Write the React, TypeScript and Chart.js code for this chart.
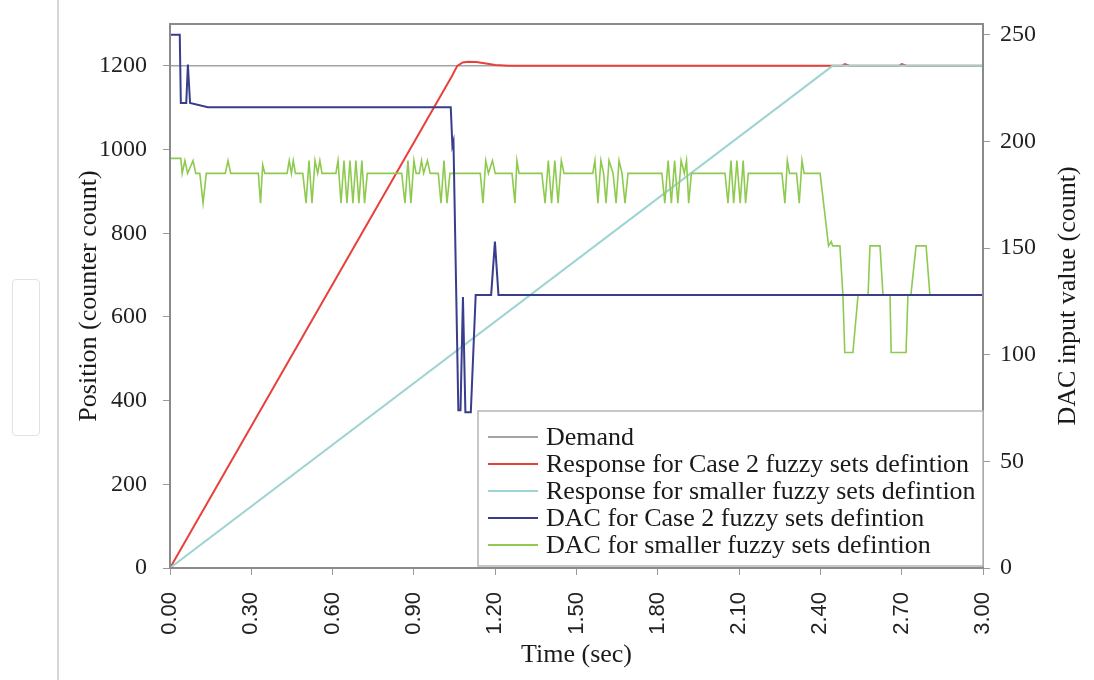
import React, { useEffect, useRef } from "react";
import { Chart, registerables } from "chart.js";

Chart.register(...registerables);

// ---- axis ticks ----
const xTicks = [0, 0.3, 0.6, 0.9, 1.2, 1.5, 1.8, 2.1, 2.4, 2.7, 3.0];
const yLeftTicks = [0, 200, 400, 600, 800, 1000, 1200];
const yRightTicks = [0, 50, 100, 150, 200, 250];

// ---- series labels ----
const seriesLabels = [
  "Demand",
  "Response for Case 2 fuzzy sets defintion",
  "Response for smaller fuzzy sets defintion",
  "DAC for Case 2 fuzzy sets defintion",
  "DAC for smaller fuzzy sets defintion",
];

// ---- Demand (position) ----
const demandT = [0, 3.0];
const demandV = [1200, 1200];

// ---- Response, Case 2 (position) ----
const respCase2T = [0, 1.04, 1.06, 1.08, 1.1, 1.13, 1.16, 1.2, 1.25, 2.48, 2.49, 2.51, 2.69, 2.7, 2.72, 3.0];
const respCase2V = [0, 1175, 1200, 1208, 1210, 1209, 1206, 1202, 1200, 1200, 1204, 1200, 1200, 1204, 1200, 1200];

// ---- Response, smaller sets (position) ----
const respSmallT = [0, 2.445, 3.0];
const respSmallV = [0, 1200, 1200];

// ---- DAC, Case 2 (count) ----
const dacCase2T = [0, 0.036, 0.04, 0.06, 0.066, 0.074, 0.14, 1.036, 1.042, 1.046, 1.064, 1.072, 1.081, 1.09, 1.11, 1.128, 1.185, 1.199, 1.212, 3.0];
const dacCase2V = [250, 250, 218, 218, 236, 218, 216, 216, 198, 200, 74, 74, 127, 73, 73, 128, 128, 153, 128, 128];

// ---- DAC, smaller sets (count) ----
const dacSmallT = [
  0, 0.04, 0.045, 0.055, 0.065, 0.085, 0.095, 0.11, 0.122, 0.134,
  0.204, 0.214, 0.224,
  0.326, 0.334, 0.342, 0.35,
  0.432, 0.44, 0.448, 0.455, 0.463,
  0.49, 0.502, 0.513, 0.524, 0.535, 0.545, 0.553, 0.561,
  0.612, 0.62, 0.631, 0.642, 0.653, 0.664, 0.675, 0.686, 0.697, 0.708, 0.718, 0.728,
  0.855, 0.867, 0.878, 0.889, 0.9, 0.908,
  0.92, 0.928, 0.936, 0.95, 0.96,
  0.99, 1.0, 1.011, 1.022, 1.033,
  1.145, 1.155, 1.165, 1.175, 1.19, 1.2,
  1.262, 1.273, 1.28, 1.288,
  1.372, 1.384, 1.396, 1.408, 1.42, 1.432, 1.444, 1.454,
  1.56, 1.568, 1.579, 1.59, 1.6, 1.609, 1.62, 1.635, 1.646, 1.657, 1.668, 1.679, 1.69,
  1.815, 1.826, 1.838, 1.85, 1.862, 1.874, 1.886, 1.898, 1.906, 1.914, 1.924,
  2.048, 2.059, 2.07, 2.08, 2.092, 2.104, 2.115, 2.124, 2.134,
  2.258, 2.269, 2.278, 2.286, 2.312, 2.322, 2.332, 2.34,
  2.399, 2.43, 2.44, 2.445, 2.472, 2.483, 2.49, 2.52, 2.539, 2.576, 2.583, 2.62, 2.631,
  2.657, 2.661, 2.716, 2.723, 2.734, 2.753, 2.79, 2.804, 3.0,
];
const dacSmallV = [
  192, 192, 185, 191, 185, 191, 185, 185, 171, 185,
  185, 191, 185,
  185, 171, 189, 185,
  185, 191, 185, 191, 185,
  185, 171, 191, 171, 191, 185, 191, 185,
  185, 191, 171, 191, 171, 191, 171, 191, 171, 191, 171, 185,
  185, 171, 191, 171, 191, 185,
  185, 191, 185, 191, 185,
  185, 171, 191, 171, 185,
  185, 171, 191, 185, 191, 185,
  185, 171, 191, 185,
  185, 171, 191, 171, 191, 171, 191, 185,
  185, 191, 171, 191, 185, 171, 191, 185, 171, 191, 185, 171, 185,
  185, 171, 191, 171, 191, 171, 191, 185, 191, 171, 185,
  185, 171, 191, 171, 191, 171, 191, 171, 185,
  185, 171, 191, 185, 185, 171, 191, 185,
  185, 151, 153, 151, 151, 128, 101, 101, 128, 128, 151, 151, 128,
  128, 101, 101, 128, 128, 151, 151, 128, 128,
];

const COLORS = {
  demand: "#a3a3a3",
  respCase2: "#e8403a",
  respSmall: "#9fd4d3",
  dacCase2: "#383d8c",
  dacSmall: "#8fca50",
};

const SERIF = '"Liberation Serif", "Times New Roman", serif';
const SANS = '"Liberation Sans", Arial, sans-serif';

function zip(t: number[], v: number[]) {
  return t.map((x, i) => ({ x, y: v[i] }));
}

const decorPlugin = {
  id: "decor",
  afterDatasetsDraw(chart: any) {
    const { ctx, chartArea } = chart;
    const { left, right, top, bottom } = chartArea;
    ctx.save();
    // plot frame
    ctx.strokeStyle = "#8a8a8a";
    ctx.lineWidth = 2;
    ctx.strokeRect(left, top, right - left, bottom - top);

    // legend box
    const lw = 505;
    const lh = 155;
    const lx = right - lw;
    const ly = bottom - lh - 2;
    ctx.fillStyle = "#ffffff";
    ctx.fillRect(lx, ly, lw, lh);
    ctx.strokeStyle = "#b5b5b5";
    ctx.lineWidth = 1.5;
    ctx.strokeRect(lx, ly, lw, lh);
    ctx.font = "26px " + SERIF;
    ctx.textAlign = "left";
    ctx.textBaseline = "middle";
    chart.data.datasets.forEach((ds: any, i: number) => {
      const y = ly + 26 + i * 27;
      ctx.strokeStyle = ds.borderColor;
      ctx.lineWidth = 2;
      ctx.beginPath();
      ctx.moveTo(lx + 10, y);
      ctx.lineTo(lx + 60, y);
      ctx.stroke();
      ctx.fillStyle = "#1a1a1a";
      ctx.fillText(ds.label, lx + 68, y + 1);
    });

    // right axis title (reads bottom to top)
    ctx.translate(1068, (top + bottom) / 2);
    ctx.rotate(-Math.PI / 2);
    ctx.textAlign = "center";
    ctx.textBaseline = "middle";
    ctx.fillStyle = "#1a1a1a";
    ctx.font = "26px " + SERIF;
    ctx.fillText("DAC input value (count)", 0, 0);
    ctx.restore();
  },
};

export default function App() {
  const canvasRef = useRef<HTMLCanvasElement | null>(null);

  useEffect(() => {
    const canvas = canvasRef.current;
    if (!canvas) return;
    const mk = (label: string, t: number[], v: number[], color: string, axis: string, order: number, width: number) => ({
      label,
      data: zip(t, v),
      borderColor: color,
      backgroundColor: color,
      borderWidth: width,
      pointRadius: 0,
      showLine: true,
      tension: 0,
      yAxisID: axis,
      order,
    });
    const chart = new Chart(canvas, {
      type: "scatter",
      data: {
        datasets: [
          mk(seriesLabels[0], demandT, demandV, COLORS.demand, "y", 5, 1.5),
          mk(seriesLabels[1], respCase2T, respCase2V, COLORS.respCase2, "y", 4, 2),
          mk(seriesLabels[2], respSmallT, respSmallV, COLORS.respSmall, "y", 3, 2),
          mk(seriesLabels[3], dacCase2T, dacCase2V, COLORS.dacCase2, "y1", 1, 2),
          mk(seriesLabels[4], dacSmallT, dacSmallV, COLORS.dacSmall, "y1", 2, 1.6),
        ],
      },
      plugins: [decorPlugin],
      options: {
        animation: false,
        responsive: true,
        maintainAspectRatio: false,
        layout: { padding: { top: 24, left: 0, right: 0, bottom: 0 } },
        plugins: {
          legend: { display: false },
          tooltip: { enabled: false },
          title: { display: false },
        },
        scales: {
          x: {
            type: "linear",
            position: "bottom",
            min: 0,
            max: 3,
            afterBuildTicks: (s: any) => {
              s.ticks = xTicks.map((value) => ({ value }));
            },
            afterFit: (s: any) => {
              s.height = 112;
              s.paddingLeft = 0;
              s.paddingRight = 0;
            },
            grid: { drawOnChartArea: false, drawTicks: true, tickLength: 7, color: "#9a9a9a" },
            border: { display: false },
            ticks: {
              autoSkip: false,
              minRotation: 90,
              maxRotation: 90,
              padding: 17,
              color: "#222",
              font: { family: SANS, size: 22 },
              callback: (v: any) => Number(v).toFixed(2),
            },
            title: {
              display: true,
              text: "Time (sec)",
              color: "#1a1a1a",
              font: { family: SERIF, size: 26 },
              padding: { top: 0, bottom: 9 },
            },
          },
          y: {
            type: "linear",
            position: "left",
            min: 0,
            max: 1300,
            afterBuildTicks: (s: any) => {
              s.ticks = yLeftTicks.map((value) => ({ value }));
            },
            afterFit: (s: any) => {
              s.width = 170;
              s.paddingTop = 0;
              s.paddingBottom = 0;
            },
            grid: { drawOnChartArea: false, drawTicks: true, tickLength: 7, color: "#9a9a9a" },
            border: { display: false },
            ticks: {
              padding: 16,
              color: "#222",
              font: { family: SERIF, size: 24 },
              callback: (v: any) => String(v),
            },
            title: {
              display: true,
              text: "Position (counter count)",
              color: "#1a1a1a",
              font: { family: SERIF, size: 26 },
              padding: { top: 74, bottom: 0 },
            },
          },
          y1: {
            type: "linear",
            position: "right",
            min: 0,
            max: 255,
            afterBuildTicks: (s: any) => {
              s.ticks = yRightTicks.map((value) => ({ value }));
            },
            afterFit: (s: any) => {
              s.width = 111;
              s.paddingTop = 0;
              s.paddingBottom = 0;
            },
            grid: { drawOnChartArea: false, drawTicks: true, tickLength: 7, color: "#9a9a9a" },
            border: { display: false },
            ticks: {
              padding: 10,
              color: "#222",
              font: { family: SERIF, size: 24 },
              callback: (v: any) => String(v),
            },
          },
        },
      } as any,
    });
    return () => chart.destroy();
  }, []);

  return (
    <div style={{ position: "fixed", left: 0, top: 0, width: 1094, height: 680, background: "#fff", overflow: "hidden" }}>
      <div style={{ position: "absolute", left: 57, top: 0, width: 2, height: 680, background: "#d6d6d6" }} />
      <div
        style={{
          position: "absolute",
          left: 12,
          top: 279,
          width: 28,
          height: 157,
          border: "1px solid #e2e2e2",
          borderRadius: 4,
          boxSizing: "border-box",
        }}
      />
      <div style={{ position: "absolute", left: 0, top: 0, width: 1094, height: 680 }}>
        <canvas ref={canvasRef} />
      </div>
    </div>
  );
}
